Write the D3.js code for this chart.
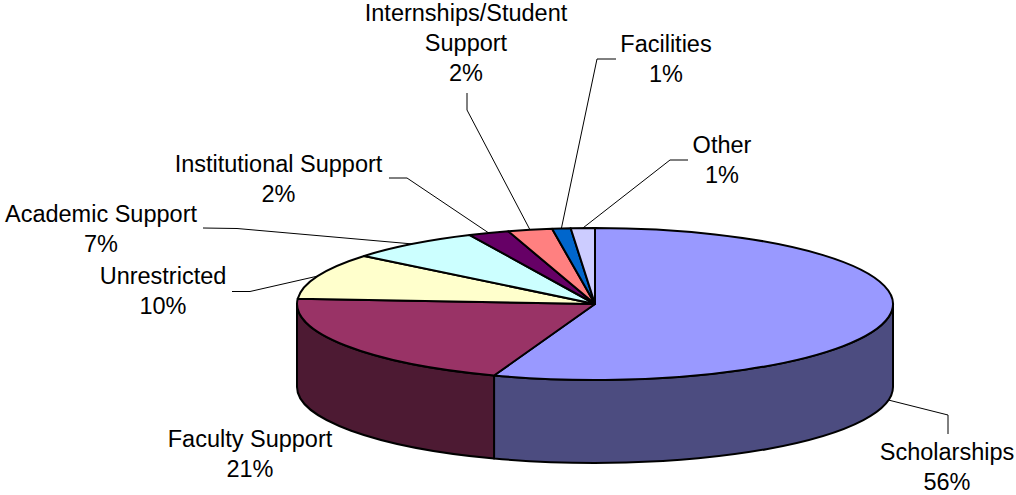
<!DOCTYPE html>
<html>
<head>
<meta charset="utf-8">
<script src="https://cdn.jsdelivr.net/npm/d3@7"></script>
<style>
  html, body { margin: 0; padding: 0; background: #ffffff; }
  svg { display: block; }
  text { font-family: "Liberation Sans", Arial, sans-serif; font-size: 23.5px; fill: #000; }
</style>
</head>
<body>
<svg id="chart" width="1016" height="495"></svg>
<script>
// ---- data ----
const categories = ["Scholarships", "Faculty Support", "Unrestricted", "Academic Support",
  "Institutional Support", "Internships/Student Support", "Facilities", "Other"];
const values = [55.5, 20.6, 9.8, 7.2, 2.2, 2.4, 1.0, 1.3];
const labelLines = [["Scholarships"], ["Faculty Support"], ["Unrestricted"], ["Academic Support"],
  ["Institutional Support"], ["Internships/Student", "Support"], ["Facilities"], ["Other"]];

// ---- styling / layout ----
const topColors  = ["#9999FF", "#993366", "#FFFFCC", "#CCFFFF", "#660066", "#FF8080", "#0066CC", "#CCCCFF"];
const sideColors = ["#4C4C80", "#4D1A33", "#80806A", "#6A8080", "#330033", "#804040", "#003366", "#6A6A80"];
const geom = { cx: 595, cy: 304, rx: 298, ry: 76, depth: 83 };
// label anchor (centre x, first baseline) and label-side leader points
const labelLayout = [
  { x: 947, y: 460, leader: [[948, 434], [948, 415]] },
  { x: 250, y: 447, leader: null },
  { x: 163, y: 284, leader: [[232, 291.5], [250, 291.5]] },
  { x: 101, y: 222, leader: [[203, 228], [237, 228.5]] },
  { x: 278.5, y: 172, leader: [[389, 178], [407, 178]] },
  { x: 466, y: 21, leader: [[467, 93], [467, 110]] },
  { x: 666, y: 52, leader: [[616, 59], [597, 59]] },
  { x: 722, y: 153, leader: [[688, 160], [670, 160]] }
];
const lineGap = 30;

const svg = d3.select("#chart");
const total = d3.sum(values);
const pie = d3.pie().sort(null).value(d => d.v).startAngle(0).endAngle(2 * Math.PI);
const arcs = pie(values.map((v, i) => ({ v, i })));

const { cx, cy, rx, ry, depth } = geom;
const px = a => cx + rx * Math.sin(a);
const py = (a, dz = 0) => cy - ry * Math.cos(a) + dz;

// ---- side faces (front half only) ----
const front0 = Math.PI / 2, front1 = 3 * Math.PI / 2;
const gSide = svg.append("g");
arcs.forEach(d => {
  const b0 = Math.max(d.startAngle, front0), b1 = Math.min(d.endAngle, front1);
  if (b1 <= b0) return;
  const large = (b1 - b0) > Math.PI ? 1 : 0;
  const p = `M${px(b0)},${py(b0)} A${rx},${ry} 0 ${large} 1 ${px(b1)},${py(b1)}` +
            ` L${px(b1)},${py(b1, depth)} A${rx},${ry} 0 ${large} 0 ${px(b0)},${py(b0, depth)} Z`;
  gSide.append("path").attr("d", p)
    .attr("fill", sideColors[d.data.i]).attr("stroke", "#000")
    .attr("stroke-width", 2).attr("stroke-linejoin", "round");
});

// ---- top faces ----
const gTop = svg.append("g");
arcs.forEach(d => {
  const a0 = d.startAngle, a1 = d.endAngle;
  const large = (a1 - a0) > Math.PI ? 1 : 0;
  const p = `M${cx},${cy} L${px(a0)},${py(a0)} A${rx},${ry} 0 ${large} 1 ${px(a1)},${py(a1)} Z`;
  gTop.append("path").attr("d", p)
    .attr("fill", topColors[d.data.i]).attr("stroke", "#000")
    .attr("stroke-width", 2).attr("stroke-linejoin", "round");
});

// ---- leader lines ----
const gLead = svg.append("g");
arcs.forEach(d => {
  const L = labelLayout[d.data.i];
  if (!L.leader) return;
  const m = (d.startAngle + d.endAngle) / 2;
  const dz = Math.cos(m) < 0 ? depth : 0;
  const pts = L.leader.concat([[px(m), py(m, dz)]]);
  gLead.append("path").attr("d", d3.line()(pts))
    .attr("fill", "none").attr("stroke", "#000").attr("stroke-width", 1);
});

// ---- labels ----
const gLab = svg.append("g");
arcs.forEach(d => {
  const i = d.data.i, L = labelLayout[i];
  const lines = labelLines[i].concat([Math.round(values[i] / total * 100) + "%"]);
  const t = gLab.append("text").attr("text-anchor", "middle");
  lines.forEach((s, k) => t.append("tspan").attr("x", L.x).attr("y", L.y + k * lineGap).text(s));
});
</script>
</body>
</html>
